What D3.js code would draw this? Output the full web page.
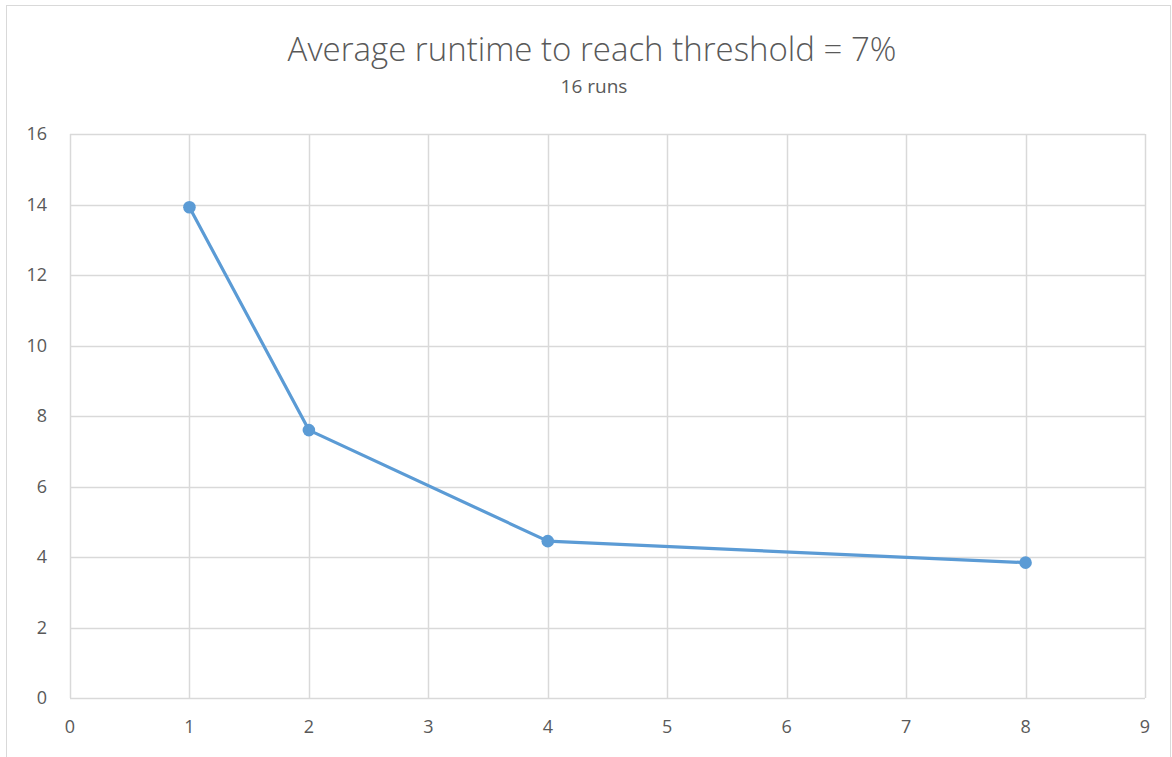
<!DOCTYPE html>
<html><head><meta charset="utf-8">
<script src="https://cdn.jsdelivr.net/npm/d3@7"></script>
<style>body{margin:0;background:#fff;}svg{display:block;}</style>
</head><body>
<svg id="c" width="1172" height="757"></svg>
<script>
const xValues = [1, 2, 4, 8];
const yValues = [13.92, 7.6, 4.45, 3.84];
const xTicks = [0,1,2,3,4,5,6,7,8,9];
const yTicks = [0,2,4,6,8,10,12,14,16];
const title = "Average runtime to reach threshold = 7%";
const subtitle = "16 runs";

const svg = d3.select("#c");
const W = 1172, H = 757;
const m = {l:70, r:1145, t:134, b:698};
const font = "'Open Sans', 'Liberation Sans', sans-serif";
const txt = "#595959";

svg.append("rect").attr("x",6.5).attr("y",5.5).attr("width",W-8).attr("height",H).attr("fill","#fff").attr("stroke","#d9d9d9");

const x = d3.scaleLinear().domain([0,9]).range([m.l,m.r]);
const y = d3.scaleLinear().domain([0,16]).range([m.b,m.t]);

const g = svg.append("g");
g.selectAll(".vg").data(xTicks).join("line")
  .attr("x1",d=>Math.round(x(d))+0.5).attr("x2",d=>Math.round(x(d))+0.5)
  .attr("y1",m.t).attr("y2",m.b).attr("stroke","#d9d9d9").attr("stroke-width",1.5);
g.selectAll(".hg").data(yTicks).join("line")
  .attr("y1",d=>Math.round(y(d))+0.5).attr("y2",d=>Math.round(y(d))+0.5)
  .attr("x1",m.l).attr("x2",m.r).attr("stroke","#d9d9d9").attr("stroke-width",1.5);

g.selectAll(".yl").data(yTicks).join("text")
  .attr("x",47).attr("y",d=>y(d)).attr("dy","0.35em").attr("text-anchor","end")
  .attr("font-family",font).attr("font-size",18).attr("fill",txt).text(d=>d);
g.selectAll(".xl").data(xTicks).join("text")
  .attr("x",d=>x(d)).attr("y",727).attr("dy","0.35em").attr("text-anchor","middle")
  .attr("font-family",font).attr("font-size",18).attr("fill",txt).text(d=>d);

const pts = xValues.map((v,i)=>[v,yValues[i]]);
svg.append("path").datum(pts)
  .attr("d",d3.line().x(d=>x(d[0])).y(d=>y(d[1])))
  .attr("fill","none").attr("stroke","#5b9bd5").attr("stroke-width",3.2).attr("stroke-linejoin","round");
svg.selectAll(".pt").data(pts).join("circle")
  .attr("cx",d=>x(d[0])).attr("cy",d=>y(d[1])).attr("r",6.3).attr("fill","#5b9bd5");

svg.append("text").attr("x",592).attr("y",61).attr("text-anchor","middle")
  .attr("font-family",font).attr("font-size",33).attr("font-weight",300).attr("fill",txt).text(title);
svg.append("text").attr("x",594).attr("y",93).attr("text-anchor","middle")
  .attr("font-family",font).attr("font-size",19).attr("fill",txt).text(subtitle);
</script>
</body></html>
